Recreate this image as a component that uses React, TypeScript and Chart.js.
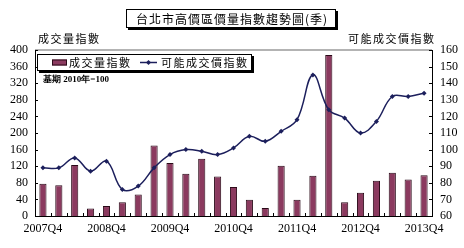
import React, { useEffect, useRef } from "react";
import { Chart, registerables } from "chart.js";

Chart.register(...registerables);

const categories = [
  "2007Q4",
  "2008Q1", "2008Q2", "2008Q3", "2008Q4",
  "2009Q1", "2009Q2", "2009Q3", "2009Q4",
  "2010Q1", "2010Q2", "2010Q3", "2010Q4",
  "2011Q1", "2011Q2", "2011Q3", "2011Q4",
  "2012Q1", "2012Q2", "2012Q3", "2012Q4",
  "2013Q1", "2013Q2", "2013Q3", "2013Q4",
];

const volumeIndex = [78, 74, 123, 18, 24, 33, 52, 170, 128, 102, 138, 95, 70, 39, 19, 121, 39, 97, 388, 33, 56, 85, 104, 88, 98];
const priceIndex = [89, 89, 95, 87, 93, 76, 78, 89, 97, 100, 99, 97, 101, 108, 105, 111, 118, 145, 124, 119, 110, 117, 132, 132, 134];

const titleText = "台北市高價區價量指數趨勢圖(季)";
const leftAxisTitle = "成交量指數";
const rightAxisTitle = "可能成交價指數";
const volumeLabel = "成交量指數";
const priceLabel = "可能成交價指數";
const baseNote = "基期 2010年=100";

const CJK = "'Noto Sans CJK TC', 'Noto Sans CJK SC', sans-serif";
const SERIF = "'Liberation Serif', 'DejaVu Serif', serif";
const BAR_COLOR = "#8b3a5f";
const LINE_COLOR = "#1c1f5c";

const decorPlugin = {
  id: "decor",
  afterDraw(chart: any) {
    const ctx = chart.ctx as CanvasRenderingContext2D;
    const { left, right, top, bottom } = chart.chartArea;
    const x = chart.scales.x;
    const y = chart.scales.y;
    const y1 = chart.scales.y1;
    ctx.save();

    // top border of plot
    ctx.strokeStyle = "#9a9a9a";
    ctx.lineWidth = 1.5;
    ctx.beginPath();
    ctx.moveTo(left, top);
    ctx.lineTo(right, top);
    ctx.stroke();

    // inward tick marks
    ctx.strokeStyle = "#000";
    ctx.lineWidth = 1;
    ctx.beginPath();
    y.ticks.forEach((t: any) => {
      const py = Math.round(y.getPixelForValue(t.value)) + 0.5;
      ctx.moveTo(left, py);
      ctx.lineTo(left + 3, py);
    });
    y1.ticks.forEach((t: any) => {
      const py = Math.round(y1.getPixelForValue(t.value)) + 0.5;
      ctx.moveTo(right, py);
      ctx.lineTo(right - 3, py);
    });
    for (let i = 1; i < categories.length; i++) {
      const px = Math.round((x.getPixelForValue(i - 1) + x.getPixelForValue(i)) / 2) + 0.5;
      ctx.moveTo(px, bottom);
      ctx.lineTo(px, bottom - 3);
    }
    ctx.stroke();

    // title box
    const tb = { x: 126, y: 9, w: 210, h: 19 };
    ctx.fillStyle = "#000";
    ctx.fillRect(tb.x + 2, tb.y + 2, tb.w, tb.h);
    ctx.fillStyle = "#fff";
    ctx.fillRect(tb.x, tb.y, tb.w, tb.h);
    ctx.strokeStyle = "#000";
    ctx.lineWidth = 1;
    ctx.strokeRect(tb.x + 0.5, tb.y + 0.5, tb.w - 1, tb.h - 1);
    ctx.fillStyle = "#000";
    ctx.font = `12px ${CJK}`;
    (ctx as any).letterSpacing = "1px";
    ctx.textAlign = "center";
    ctx.textBaseline = "middle";
    ctx.fillText(titleText, tb.x + tb.w / 2 + 1, tb.y + tb.h / 2 + 1);

    // axis titles
    ctx.font = `11px ${CJK}`;
    (ctx as any).letterSpacing = "1.5px";
    ctx.textAlign = "left";
    ctx.fillText(leftAxisTitle, 38, 39);
    ctx.fillText(rightAxisTitle, 348, 39);

    // legend box
    const lb = { x: 37, y: 54, w: 215, h: 17 };
    ctx.fillStyle = "#000";
    ctx.fillRect(lb.x + 2, lb.y + 2, lb.w, lb.h);
    ctx.fillStyle = "#fff";
    ctx.fillRect(lb.x, lb.y, lb.w, lb.h);
    ctx.strokeStyle = "#000";
    ctx.strokeRect(lb.x + 0.5, lb.y + 0.5, lb.w - 1, lb.h - 1);
    const ly = lb.y + lb.h / 2;
    ctx.fillStyle = BAR_COLOR;
    ctx.fillRect(52, ly - 3, 15, 6);
    ctx.strokeStyle = "#2a0a18";
    ctx.strokeRect(52.5, ly - 2.5, 14, 5);
    ctx.fillStyle = "#000";
    ctx.font = `11px ${CJK}`;
    (ctx as any).letterSpacing = "1.5px";
    ctx.fillText(volumeLabel, 69, ly + 0.5);
    ctx.strokeStyle = LINE_COLOR;
    ctx.lineWidth = 1.5;
    ctx.beginPath();
    ctx.moveTo(140, ly);
    ctx.lineTo(157, ly);
    ctx.stroke();
    ctx.fillStyle = LINE_COLOR;
    ctx.beginPath();
    ctx.moveTo(148.5, ly - 2.5);
    ctx.lineTo(151, ly);
    ctx.lineTo(148.5, ly + 2.5);
    ctx.lineTo(146, ly);
    ctx.closePath();
    ctx.fill();
    ctx.fillStyle = "#000";
    ctx.fillText(priceLabel, 161, ly + 0.5);

    // base note
    (ctx as any).letterSpacing = "0px";
    ctx.font = `bold 9px ${SERIF}`;
    ctx.fillText(baseNote, 43, 80);

    ctx.restore();
  },
};

export default function App() {
  const canvasRef = useRef<HTMLCanvasElement | null>(null);

  useEffect(() => {
    if (!canvasRef.current) return;
    const tickFont = { family: SERIF, size: 12 };
    const chart = new Chart(canvasRef.current, {
      type: "bar",
      data: {
        labels: categories,
        datasets: [
          {
            type: "line",
            label: priceLabel,
            data: priceIndex,
            yAxisID: "y1",
            borderColor: LINE_COLOR,
            borderWidth: 1.5,
            backgroundColor: LINE_COLOR,
            pointStyle: "rectRot",
            pointRadius: 2.5,
            pointBackgroundColor: LINE_COLOR,
            pointBorderColor: LINE_COLOR,
            pointBorderWidth: 0,
            tension: 0.4,
            order: 0,
          } as any,
          {
            type: "bar",
            label: volumeLabel,
            data: volumeIndex,
            yAxisID: "y",
            backgroundColor: BAR_COLOR,
            borderColor: "#2a0a18",
            borderWidth: 1,
            barPercentage: 0.45,
            categoryPercentage: 1,
            order: 1,
          } as any,
        ],
      },
      options: {
        responsive: false,
        animation: false,
        devicePixelRatio: 1,
        layout: { padding: { top: 50, left: 0, right: 0, bottom: 0 } },
        plugins: {
          legend: { display: false },
          tooltip: { enabled: false },
          title: { display: false },
        },
        scales: {
          x: {
            offset: true,
            grid: { display: false, drawTicks: false },
            border: { color: "#000", width: 1 },
            ticks: {
              autoSkip: false,
              maxRotation: 0,
              padding: 6,
              color: "#000",
              font: tickFont,
              callback: (_v: any, i: number) => (i % 4 === 0 ? categories[i] : ""),
            },
            afterFit: (s: any) => {
              s.height = 32;
            },
          },
          y: {
            position: "left",
            min: 0,
            max: 400,
            grid: { display: false, drawTicks: false },
            border: { color: "#000", width: 1 },
            ticks: { stepSize: 40, autoSkip: false, padding: 7, color: "#000", font: tickFont },
            afterFit: (s: any) => {
              s.width = 35;
            },
          },
          y1: {
            position: "right",
            min: 60,
            max: 160,
            grid: { display: false, drawTicks: false },
            border: { color: "#000", width: 1 },
            ticks: { stepSize: 10, autoSkip: false, padding: 8, color: "#000", font: tickFont },
            afterFit: (s: any) => {
              s.width = 32;
            },
          },
        } as any,
      },
      plugins: [decorPlugin],
    });
    return () => chart.destroy();
  }, []);

  return (
    <div style={{ position: "absolute", left: 0, top: 0, width: 464, height: 248, background: "#fff" }}>
      <canvas ref={canvasRef} width={464} height={248} style={{ width: 464, height: 248, display: "block" }} />
    </div>
  );
}
